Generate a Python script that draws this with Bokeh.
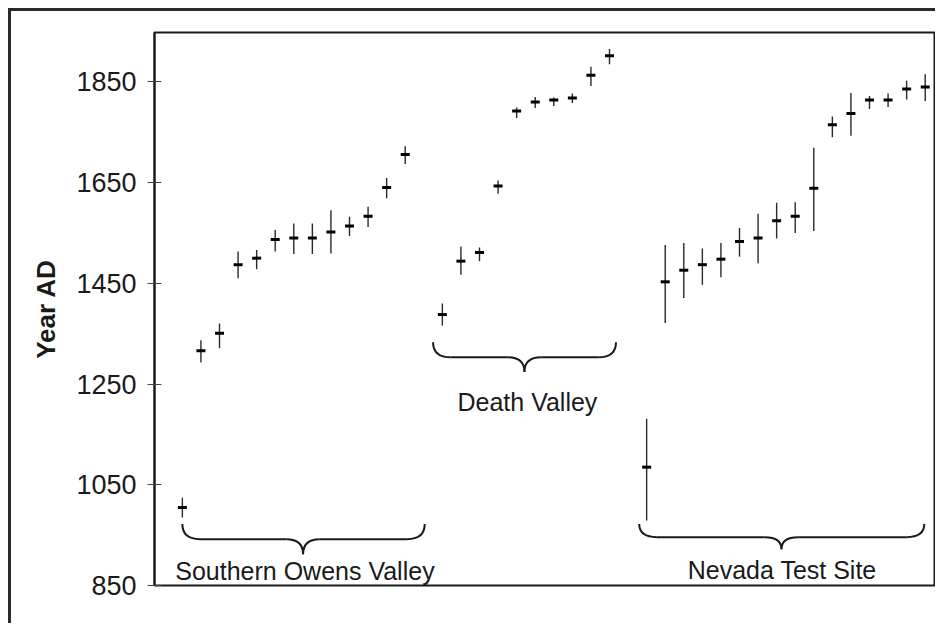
from bokeh.plotting import figure
from bokeh.models import Range1d, FixedTicker, ColumnDataSource
from bokeh.core.properties import value
from bokeh.embed import file_html
from bokeh.resources import INLINE

# ---------------- data ----------------
group_names = ["Southern Owens Valley", "Death Valley", "Nevada Test Site"]

owens_slot = list(range(1, 14))
owens_year = [1005, 1316, 1351, 1487, 1500, 1537, 1540, 1540, 1552, 1564, 1583, 1640, 1706]
owens_low = [985, 1293, 1321, 1460, 1478, 1513, 1508, 1508, 1509, 1544, 1562, 1619, 1687]
owens_high = [1024, 1337, 1370, 1513, 1516, 1556, 1569, 1569, 1595, 1582, 1602, 1659, 1722]

death_slot = list(range(15, 25))
death_year = [1388, 1494, 1511, 1643, 1792, 1810, 1814, 1818, 1863, 1902]
death_low = [1366, 1467, 1494, 1628, 1778, 1798, 1802, 1808, 1842, 1885]
death_high = [1410, 1523, 1521, 1654, 1799, 1820, 1819, 1827, 1880, 1915]

nevada_slot = list(range(26, 42))
nevada_year = [1085, 1453, 1476, 1487, 1498, 1533, 1540, 1574, 1583, 1639,
               1765, 1787, 1814, 1814, 1836, 1840]
nevada_low = [979, 1371, 1421, 1447, 1462, 1503, 1490, 1539, 1550, 1554,
              1740, 1743, 1796, 1800, 1815, 1812]
nevada_high = [1181, 1526, 1530, 1519, 1530, 1560, 1588, 1610, 1611, 1719,
               1781, 1828, 1822, 1827, 1852, 1865]

y_ticks = [850, 1050, 1250, 1450, 1650, 1850]

# ---------------- figure ----------------
FONT = "Liberation Sans"
INK = "#1a1a1a"

p = figure(width=927, height=615, output_backend="svg", toolbar_location=None,
           x_range=Range1d(-0.5, 41.5), y_range=Range1d(850, 1948),
           min_border_left=143, min_border_right=4, min_border_top=21,
           min_border_bottom=41)
p.styles = {"border-left": "3px solid #2a2a2a", "border-top": "3px solid #2a2a2a",
            "margin-left": "8px", "margin-top": "8px"}
p.grid.visible = False
p.xaxis.visible = False
p.outline_line_color = INK
p.outline_line_width = 2
p.background_fill_color = "white"
p.border_fill_color = "white"

ax = p.yaxis[0]
ax.ticker = FixedTicker(ticks=y_ticks)
ax.axis_line_color = INK
ax.axis_line_width = 2
ax.major_tick_in = 7
ax.major_tick_out = 7
ax.major_tick_line_color = "#444444"
ax.major_tick_line_width = 1
ax.minor_tick_line_color = None
ax.major_label_text_font = FONT
ax.major_label_text_font_size = "27px"
ax.major_label_text_color = INK
ax.major_label_standoff = 11
ax.axis_label = "Year AD"
ax.axis_label_text_font = FONT
ax.axis_label_text_font_style = "bold"
ax.axis_label_text_font_size = "26px"
ax.axis_label_text_color = INK
ax.axis_label_standoff = 12

# ---------------- error bars ----------------
slots = owens_slot + death_slot + nevada_slot
years = owens_year + death_year + nevada_year
lows = owens_low + death_low + nevada_low
highs = owens_high + death_high + nevada_high
src = ColumnDataSource(dict(x=slots, y=years, lo=lows, hi=highs))

p.segment(x0="x", x1="x", y0="lo", y1="hi", source=src,
          line_color="#2a2a2a", line_width=1.4)
p.scatter(x="x", y="y", source=src, marker="dash", size=9,
          line_color="black", line_width=3)

# ---------------- braces ----------------
def brace(x0, x1, xc, y_top, y_mid, y_tip, rx=0.95, rx_tip=0.9):
    kw = dict(line_color=INK, line_width=2)
    p.quadratic(x0=[x0], y0=[y_top], x1=[x0 + rx], y1=[y_mid], cx=[x0], cy=[y_mid], **kw)
    p.segment(x0=[x0 + rx], y0=[y_mid], x1=[xc - rx_tip], y1=[y_mid], **kw)
    p.quadratic(x0=[xc - rx_tip], y0=[y_mid], x1=[xc], y1=[y_tip], cx=[xc], cy=[y_mid], **kw)
    p.quadratic(x0=[xc + rx_tip], y0=[y_mid], x1=[xc], y1=[y_tip], cx=[xc], cy=[y_mid], **kw)
    p.segment(x0=[xc + rx_tip], y0=[y_mid], x1=[x1 - rx], y1=[y_mid], **kw)
    p.quadratic(x0=[x1], y0=[y_top], x1=[x1 - rx], y1=[y_mid], cx=[x1], cy=[y_mid], **kw)

brace(owens_slot[0] - 0.0, owens_slot[-1] + 1.05, 7.5, 972, 942, 912)
brace(death_slot[0] - 0.5, death_slot[-1] + 0.35, 19.42, 1333, 1303, 1274)
brace(nevada_slot[0] - 0.4, nevada_slot[-1] - 0.05, 33.26, 972, 946, 922)

label_x = [7.6, 19.58, 33.3]
label_y = [878, 1214, 880]
p.text(x=label_x, y=label_y, text=group_names, text_font=value(FONT),
       text_font_size="25px", text_color=INK, text_align="center",
       text_baseline="middle")

open("out.html", "w").write(file_html(p, INLINE))
